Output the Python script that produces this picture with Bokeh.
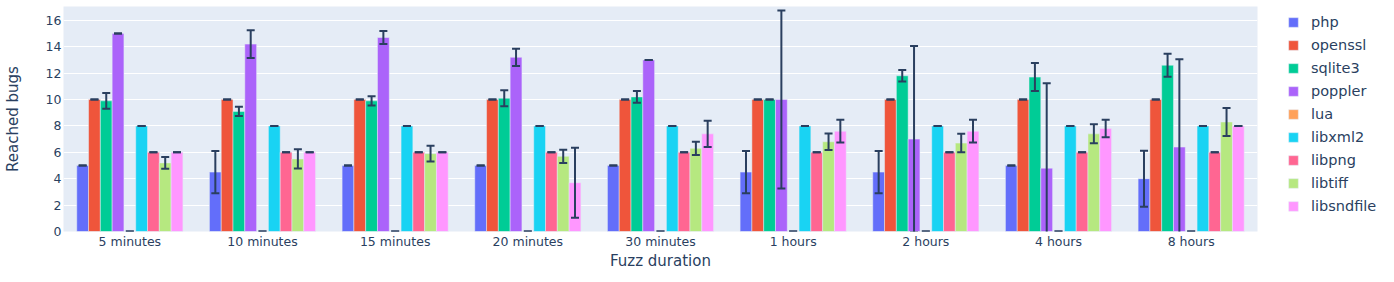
from bokeh.plotting import figure
from bokeh.models import ColumnDataSource, FactorRange, Range1d, FixedTicker, Legend, LegendItem
from bokeh.transform import dodge
from bokeh.embed import file_html
from bokeh.resources import INLINE
import numpy as np

categories = ["5 minutes", "10 minutes", "15 minutes", "20 minutes", "30 minutes",
              "1 hours", "2 hours", "4 hours", "8 hours"]
series = ["php", "openssl", "sqlite3", "poppler", "lua", "libxml2", "libpng", "libtiff", "libsndfile"]
colors = ["#636efa", "#EF553B", "#00cc96", "#ab63fa", "#FFA15A", "#19d3f3", "#FF6692", "#B6E880", "#FF97FF"]

php = [5, 4.5, 5, 5, 5, 4.5, 4.5, 5, 4]
php_err = [0, 1.6, 0, 0, 0, 1.6, 1.6, 0, 2.12]
openssl = [10, 10, 10, 10, 10, 10, 10, 10, 10]
openssl_err = [0, 0, 0, 0, 0, 0, 0, 0, 0]
sqlite3 = [9.9, 9.1, 9.9, 10.1, 10.2, 10, 11.8, 11.7, 12.6]
sqlite3_err = [0.6, 0.35, 0.35, 0.6, 0.45, 0, 0.43, 1.06, 0.87]
poppler = [15, 14.2, 14.7, 13.2, 13, 10, 7, 4.8, 6.4]
poppler_err = [0, 1.05, 0.5, 0.65, 0, 6.75, 7.05, 6.44, 6.65]
lua = [0, 0, 0, 0, 0, 0, 0, 0, 0]
lua_err = [0, 0, 0, 0, 0, 0, 0, 0, 0]
libxml2 = [8, 8, 8, 8, 8, 8, 8, 8, 8]
libxml2_err = [0, 0, 0, 0, 0, 0, 0, 0, 0]
libpng = [6, 6, 6, 6, 6, 6, 6, 6, 6]
libpng_err = [0, 0, 0, 0, 0, 0, 0, 0, 0]
libtiff = [5.2, 5.5, 5.9, 5.7, 6.3, 6.8, 6.7, 7.4, 8.3]
libtiff_err = [0.45, 0.73, 0.6, 0.5, 0.5, 0.62, 0.7, 0.72, 1.06]
libsndfile = [6, 6, 6, 3.7, 7.4, 7.6, 7.6, 7.8, 8]
libsndfile_err = [0, 0, 0, 2.65, 1.0, 0.86, 0.86, 0.66, 0]

values = [php, openssl, sqlite3, poppler, lua, libxml2, libpng, libtiff, libsndfile]
errors = [php_err, openssl_err, sqlite3_err, poppler_err, lua_err, libxml2_err,
          libpng_err, libtiff_err, libsndfile_err]

TEXT = "#2a3f5f"
FONT = "DejaVu Sans"

p = figure(frame_width=1194, frame_height=225, output_backend="svg", toolbar_location=None,
           x_range=FactorRange(*categories), y_range=Range1d(0, 17.05),
           min_border_left=62, min_border_right=122, min_border_top=6, min_border_bottom=35)

p.background_fill_color = "#e5ecf6"
p.border_fill_color = "white"
p.outline_line_color = None
p.xgrid.grid_line_color = None
p.ygrid.grid_line_color = "white"
p.ygrid.grid_line_width = 1
p.yaxis.ticker = FixedTicker(ticks=[0, 2, 4, 6, 8, 10, 12, 14, 16])

for ax in (p.xaxis, p.yaxis):
    ax.axis_line_color = None
    ax.major_tick_line_color = None
    ax.minor_tick_line_color = None
    ax.major_tick_out = 0
    ax.major_tick_in = 0
    ax.major_label_text_color = TEXT
    ax.major_label_text_font = FONT
    ax.major_label_text_font_size = "12.5px"
    ax.axis_label_text_color = TEXT
    ax.axis_label_text_font = FONT
    ax.axis_label_text_font_size = "15px"
    ax.axis_label_text_font_style = "normal"

p.xaxis.axis_label = "Fuzz duration"
p.yaxis.axis_label = "Reached bugs"
p.xaxis.major_label_standoff = 2
p.xaxis.axis_label_standoff = 0
p.yaxis.major_label_standoff = 2
p.yaxis.axis_label_standoff = 21

n = len(series)
w = 0.8 / n
items = []
for j, (name, col, vals, errs) in enumerate(zip(series, colors, values, errors)):
    v = np.array(vals, dtype=float)
    e = np.array(errs, dtype=float)
    src = ColumnDataSource(dict(cat=categories, top=v, upper=v + e, lower=v - e))
    off = -0.4 + (j + 0.5) * w
    xd = dodge("cat", off, range=p.x_range)
    r = p.vbar(x=xd, top="top", width=w, source=src, fill_color=col,
               line_color="#e5ecf6", line_width=0.5)
    items.append(LegendItem(label=name, renderers=[r]))
    p.segment(x0=xd, y0="lower", x1=xd, y1="upper", source=src,
              line_color=TEXT, line_width=2)
    p.scatter(x=xd, y="upper", source=src, marker="dash", size=8,
              line_color=TEXT, line_width=2)
    p.scatter(x=xd, y="lower", source=src, marker="dash", size=8,
              line_color=TEXT, line_width=2)

lg = Legend(items=items, location=(30, 15))
lg.label_text_font = FONT
lg.label_text_font_size = "14.5px"
lg.label_text_color = TEXT
lg.glyph_width = 12
lg.glyph_height = 12
lg.label_standoff = 12
lg.label_height = 20
lg.spacing = 3
lg.padding = 0
lg.margin = 0
lg.border_line_color = None
lg.background_fill_alpha = 0
p.add_layout(lg, "right")

open("out.html", "w").write(file_html(p, INLINE))
